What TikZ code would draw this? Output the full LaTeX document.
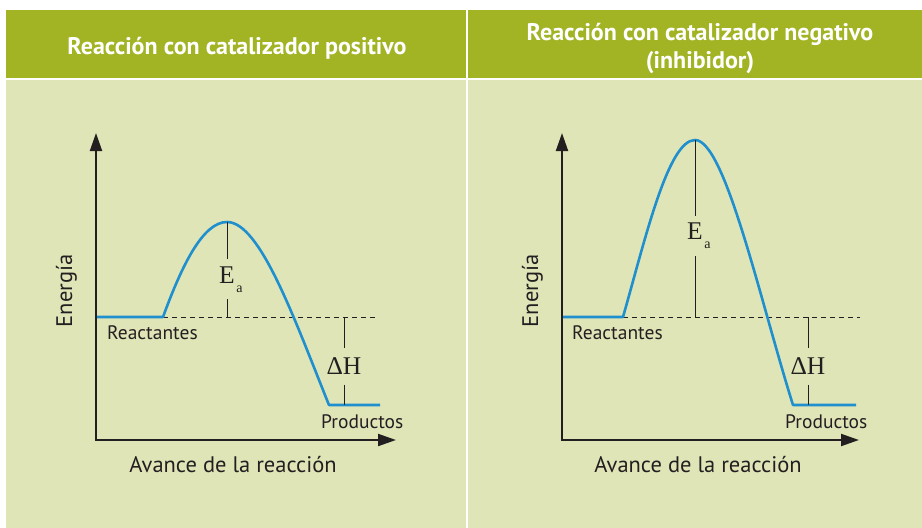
\documentclass[tikz,border=0pt]{standalone}
\usepackage{fontspec}
\setsansfont{PT Sans}
\newfontfamily\symfont{Liberation Serif}
\usetikzlibrary{arrows.meta}
\definecolor{hdr}{HTML}{A2B424}
\definecolor{bodyc}{HTML}{E0E5B8}
\definecolor{curvec}{HTML}{1F8FCD}
\definecolor{ink}{HTML}{231F20}
\tikzset{
  hdrtext/.style={text=white, font=\sffamily\bfseries\fontsize{24}{28}\selectfont, align=center, inner sep=0pt},
  lbl/.style={text=ink, font=\sffamily\fontsize{19.5}{19.5}\selectfont, inner sep=0pt},
  axlbl/.style={text=ink, font=\sffamily\fontsize{22.5}{22.5}\selectfont, inner sep=0pt},
  axisline/.style={draw=ink, line width=2pt, line join=miter, {Triangle[length=18pt,width=12pt]}-{Triangle[length=18pt,width=12pt]}},
  energy/.style={draw=curvec, line width=2.6pt, line join=round},
  refline/.style={draw=ink, line width=0.9pt, dash pattern=on 5pt off 4pt},
  thinline/.style={draw=ink, line width=1pt},
  symlbl/.style={text=ink, font=\symfont\fontsize{25.5}{25.5}\selectfont, inner xsep=0pt}
}
\newcommand{\EaText}{E\rlap{\hspace{1.5pt}\raisebox{-9pt}{\fontsize{14}{14}\selectfont a}}}
\begin{document}
\begin{tikzpicture}[x=1pt,y=-1pt]
\useasboundingbox (0,0) rectangle (922,528);
\fill[white] (0,0) rectangle (922,528);
% table cells
\fill[hdr] (6,10) rectangle (466,78);
\fill[hdr] (468,10) rectangle (922,78);
\fill[bodyc] (6,80) rectangle (466,528);
\fill[bodyc] (468,80) rectangle (922,528);
\node[hdrtext, anchor=base] (h1) at (237,54) {Reacción con catalizador positivo};
\node[hdrtext, anchor=base] (h2) at (700,68) {Reacción con catalizador negativo\\(inhibidor)};

% ---------- left panel ----------
\coordinate (yt1) at (96,133);
\coordinate (o1) at (96,440);
\coordinate (xt1) at (396,440);
\draw[axisline] (yt1) -- (o1) -- (xt1);
\coordinate (ra1) at (97,317);
\coordinate (rb1) at (163,317);
\coordinate (pk1) at (227,222);
\coordinate (bs1) at (227,317);
\coordinate (pa1) at (329,405);
\coordinate (pb1) at (380,405);
\coordinate (de1) at (375,317);
\coordinate (dh1) at (344,317);
\coordinate (dl1) at (344,405);
\draw[refline] (rb1) -- (de1);
\draw[energy] (ra1) -- (rb1) .. controls (182,265) and (203,222) .. (pk1)
   .. controls (260,222) and (294,318) .. (pa1) -- (pb1);
\node[symlbl, inner ysep=7pt] (ea1) at (227,279.3) {\EaText};
\draw[thinline] (pk1) -- (ea1.north);
\draw[thinline] (ea1.south) -- (bs1);
\node[symlbl, inner ysep=9.5pt] (dH1) at (344,366.5) {ΔH};
\draw[thinline] (dh1) -- (dH1.north);
\draw[thinline] (dH1.south) -- (dl1);
\node[lbl, anchor=base west] (re1) at (107,339) {Reactantes};
\node[lbl, anchor=base west] (pr1) at (321,428) {Productos};
\node[axlbl, anchor=base] (av1) at (233,472) {Avance de la reacción};
\node[axlbl, anchor=base, rotate=90] (en1) at (72,291) {Energía};

% ---------- right panel ----------
\coordinate (yt2) at (562,133);
\coordinate (o2) at (562,440);
\coordinate (xt2) at (859,440);
\draw[axisline] (yt2) -- (o2) -- (xt2);
\coordinate (ra2) at (563,317);
\coordinate (rb2) at (623,317);
\coordinate (pk2) at (695,140);
\coordinate (bs2) at (695,317);
\coordinate (pa2) at (793,405);
\coordinate (pb2) at (856,405);
\coordinate (de2) at (860,317);
\coordinate (dh2) at (808,317);
\coordinate (dl2) at (808,405);
\draw[refline] (rb2) -- (de2);
\draw[energy] (ra2) -- (rb2) .. controls (645,240) and (668,140) .. (pk2)
   .. controls (725,140) and (760,300) .. (pa2) -- (pb2);
\node[symlbl, inner ysep=7pt] (ea2) at (695,236) {\EaText};
\draw[thinline] (pk2) -- (ea2.north);
\draw[thinline] (ea2.south) -- (bs2);
\node[symlbl, inner ysep=9.5pt] (dH2) at (808,366.5) {ΔH};
\draw[thinline] (dh2) -- (dH2.north);
\draw[thinline] (dH2.south) -- (dl2);
\node[lbl, anchor=base west] (re2) at (572,339) {Reactantes};
\node[lbl, anchor=base west] (pr2) at (785,428) {Productos};
\node[axlbl, anchor=base] (av2) at (698,472) {Avance de la reacción};
\node[axlbl, anchor=base, rotate=90] (en2) at (538,291) {Energía};
\end{tikzpicture}
\end{document}
